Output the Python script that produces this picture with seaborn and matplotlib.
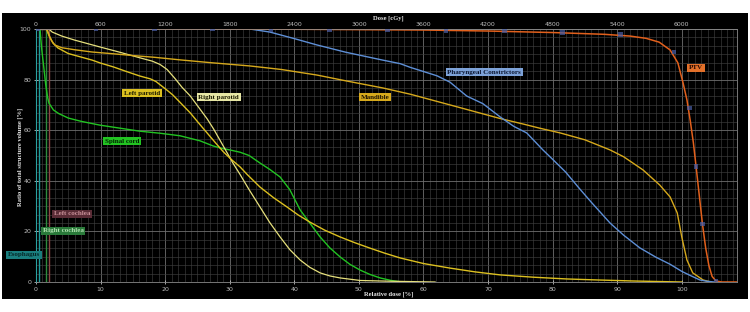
import numpy as np
import matplotlib
matplotlib.use('Agg')
import matplotlib.pyplot as plt
from matplotlib.patches import Rectangle
from matplotlib.ticker import MultipleLocator
import seaborn as sns

# DVH data (relative dose %, volume %)
ptv_dose = [0, 40, 60, 70, 80, 88, 92, 94.5, 96.5, 98.2, 99.4, 100.2, 100.8, 101.3, 101.8,
            102.2, 102.7, 103.2, 103.7, 104.2, 104.7, 105.3, 106.2, 108.6]
ptv_vol = [100, 99.9, 99.6, 99.2, 98.6, 97.9, 97.2, 96.3, 94.8, 91.7, 86.6, 78.7, 72, 64, 55,
           46, 34.5, 23, 13.5, 6.5, 2.2, 0.4, 0, 0]
ptv_mark_dose = [0.2, 9.3, 18.3, 27.3, 36.4, 45.4, 54.4, 63.5, 72.5, 81.5, 90.5, 98.8,
                 101.2, 102.2, 103.2, 105.3]
ptv_mark_vol = [100, 100, 100, 100, 99.9, 99.8, 99.7, 99.5, 99.2, 98.5, 97.7, 90.9,
                68.8, 45.8, 22.9, 0.4]

phar_dose = [0, 30, 33.1, 36.2, 40, 43.5, 48, 53.7, 56.4, 58, 60, 62.1, 64.1, 66.7, 69.2, 71.9,
             74, 76, 78.5, 80, 82, 84.2, 86, 88.9, 91, 93.5, 96, 98.2, 100, 101.3, 102.8, 103.9, 105]
phar_vol = [100, 100, 100, 98.8, 96.2, 93.7, 90.8, 87.7, 86.3, 84.8, 83.2, 81.5, 79, 73.5, 70.5,
            65.2, 61.5, 58.9, 52.2, 48.5, 43.5, 36.8, 31.5, 23.3, 18.5, 13.5, 9.8, 7, 4.2, 2.6,
            0.8, 0.3, 0]

mand_dose = [0, 1.6, 2.0, 2.4, 2.9, 4, 6, 8.7, 12, 15, 18.4, 22.3, 27, 33.1, 38, 43.5, 48, 53.7,
             58, 64.1, 68, 71.9, 75.5, 78, 81.2, 85, 88.9, 91, 94, 96.6, 98.2, 99.3, 100, 100.8,
             101.7, 103.3, 104.5]
mand_vol = [100, 100, 97.5, 95.5, 93.7, 92.6, 91.8, 90.9, 90.2, 89.5, 88.8, 87.8, 86.7, 85.4, 84,
            81.8, 79.5, 76.7, 74.2, 70, 67.3, 64.6, 62.4, 60.8, 58.9, 56.2, 52.2, 49.5, 44.3, 38.3,
            33.6, 27.3, 17.8, 8.7, 3.6, 0.8, 0]

lpar_dose = [0, 1.7, 2.1, 2.6, 3.4, 5, 8.7, 9.9, 12, 14, 16.1, 17.7, 18.6, 19.4, 20.3, 21.2, 22.5,
             23.9, 25.2, 26.5, 27.8, 29, 30.3, 31.6, 32.7, 34.7, 36.8, 38.9, 40.6, 42.4, 44.7,
             47.1, 49.4, 51.7, 54, 56.4, 60, 64.1, 68, 71.9, 77, 82.2, 87, 92.5, 100]
lpar_vol = [100, 100, 97, 94.5, 92.5, 90.3, 87.7, 86.6, 85, 83.2, 81.4, 80.3, 79.2, 77.6, 75.8,
            73.9, 70.5, 66.8, 62.8, 58.9, 55, 51.5, 48.3, 45.5, 42.5, 37.5, 33.3, 29.6, 26.5,
            23.7, 20.5, 17.8, 15.5, 13.4, 11.4, 9.5, 7.3, 5.5, 4, 2.8, 1.9, 1.2, 0.8, 0.4, 0]

rpar_dose = [0, 2.0, 2.5, 4, 6, 9.9, 13, 16.1, 18, 19.2, 20.3, 21.5, 22.6, 23.9, 25.2, 26.5,
             27.5, 28.5, 29.5, 30.5, 31.6, 33, 34.7, 36.2, 37.8, 39.3, 40.9, 42.4, 44, 45.5,
             47.1, 50.2, 55, 61.8]
rpar_vol = [100, 100, 98.8, 97.2, 95.6, 92.9, 90.8, 88.6, 87.3, 86, 84, 80.5, 77, 73.5, 69,
            64.5, 60.5, 56, 51.5, 47, 42.5, 36.5, 29.6, 23.5, 17.8, 12.8, 8.7, 5.8, 3.6, 2.4,
            1.6, 0.6, 0.3, 0]

cord_dose = [0, 0.62, 0.75, 0.9, 1.2, 1.5, 1.8, 2.0, 2.7, 3.5, 5, 7, 9.9, 13, 16.1, 19.2, 22.3,
             25.4, 27.4, 28.5, 30, 31.6, 33, 34.7, 36.2, 37.8, 39.3, 40.1, 40.9, 42.4, 44, 45.5,
             47.1, 48.6, 50.2, 51.7, 53.3, 55, 56.4, 58]
cord_vol = [100, 100, 96, 91.7, 85, 78, 73, 70.7, 68, 66.6, 64.8, 63.5, 62, 60.8, 59.6, 58.8,
            57.8, 55.8, 53.8, 53, 52.2, 51.3, 50, 47, 44.5, 41.5, 36.5, 32.5, 28.5, 23.3, 17.8,
            13.5, 9.9, 7, 4.7, 3, 1.6, 0.6, 0.1, 0]

rcoch_dose = [0, 1.55, 1.55]
rcoch_vol = [100, 100, 0]
lcoch_dose = [0, 2.05, 2.05]
lcoch_vol = [100, 100, 0]
eso_dose = [0, 0.46, 0.46]
eso_vol = [100, 100, 0]

fig = plt.figure(figsize=(7.5, 3.12), dpi=100, facecolor='white')
fig.patches.append(Rectangle((2 / 750, 1 - 299 / 312), 746 / 750, 286 / 312,
                             transform=fig.transFigure, facecolor='black', zorder=-10))
ax = fig.add_axes([36 / 750, 1 - 282 / 312, (737.3 - 36) / 750, 253 / 312])
ax.set_facecolor('black')

# grid
ax.xaxis.set_major_locator(MultipleLocator(10))
ax.xaxis.set_minor_locator(MultipleLocator(1))
ax.yaxis.set_major_locator(MultipleLocator(20))
ax.yaxis.set_minor_locator(MultipleLocator(20 / 6))
ax.grid(which='major', color='#6e6e6e', lw=0.6)
ax.grid(which='minor', color='#3e3e3e', lw=0.45)
ax.set_axisbelow(True)

curves = [
    (eso_dose, eso_vol, '#1f9c9c', 1.0),
    (rcoch_dose, rcoch_vol, '#2e8c3e', 1.0),
    (lcoch_dose, lcoch_vol, '#8c4646', 1.0),
    (cord_dose, cord_vol, '#22c322', 1.0),
    (rpar_dose, rpar_vol, '#e6e07c', 0.9),
    (lpar_dose, lpar_vol, '#dcc020', 1.0),
    (mand_dose, mand_vol, '#d6a91c', 1.0),
    (phar_dose, phar_vol, '#5e8fd6', 1.0),
    (ptv_dose, ptv_vol, '#e2601c', 1.1),
]
for xs, ys, c, lw in curves:
    sns.lineplot(x=xs, y=ys, ax=ax, color=c, lw=lw, estimator=None, sort=False)

sns.scatterplot(x=ptv_mark_dose, y=ptv_mark_vol, ax=ax, marker='s', s=12,
                color='#4a5fa8', alpha=0.7, edgecolor='none', zorder=5)

ax.set_xlim(0, 108.6)
ax.set_ylim(0, 100)
ax.set_xticks(range(0, 101, 10))
ax.set_yticks(range(0, 101, 20))
ax.tick_params(which='major', colors='#bdbdbd', labelsize=4.5, length=3, width=0.6,
               direction='inout', pad=2)
ax.tick_params(which='minor', length=0)
ax.set_xlabel('')
ax.set_ylabel('')
for side in ['top', 'right', 'bottom']:
    ax.spines[side].set_color('#8a8a8a')
    ax.spines[side].set_linewidth(0.6)
ax.spines['left'].set_color('#2aa0a0')
ax.spines['left'].set_linewidth(0.8)

top = ax.secondary_xaxis('top', functions=(lambda v: v * 60, lambda v: v / 60))
top.set_xticks(range(0, 6001, 600))
top.tick_params(colors='#bdbdbd', labelsize=4.5, length=0, pad=1.5)
top.spines['top'].set_visible(False)

serif = dict(family='Liberation Serif', fontweight='bold')
fig.text(388 / 750, 1 - 18 / 312, 'Dose [cGy]', color='#e8e8e8', fontsize=4.7,
         ha='center', va='center', **serif)
fig.text(389 / 750, 1 - 294 / 312, 'Relative dose [%]', color='#e8e8e8', fontsize=4.7,
         ha='center', va='center', **serif)
fig.text(20 / 750, 1 - 157 / 312, 'Ratio of total structure volume [%]', color='#e8e8e8',
         fontsize=4.7, rotation=90, ha='center', va='center', **serif)

labels = [
    ('Left parotid', 16.4, 74.7, '#dcc020', '#1a1a00'),
    ('Right parotid', 28.3, 73.1, '#e6e6a4', '#1a1a00'),
    ('Spinal cord', 13.3, 55.7, '#22c322', '#002000'),
    ('Mandible', 52.5, 73.1, '#d6a91c', '#1a1000'),
    ('Pharyngeal Constrictors', 69.4, 83.0, '#7da2d8', '#0a1530'),
    ('PTV', 102.2, 84.6, '#e2702a', '#2a0a00'),
    ('Left cochlea', 5.6, 26.9, '#5a2c36', '#c89098'),
    ('Right cochlea', 4.2, 20.2, '#2a7a3a', '#b0e0b0'),
    ('Esophagus', -1.9, 10.7, '#1a7e7e', '#062828'),
]
for txt, x, y, bg, fg in labels:
    ax.text(x, y, txt, color=fg, fontsize=5, ha='center', va='center', clip_on=False,
            bbox=dict(boxstyle='square,pad=0.25', facecolor=bg, edgecolor='none'), **serif)

plt.savefig('out.png', dpi=100, facecolor='white')
